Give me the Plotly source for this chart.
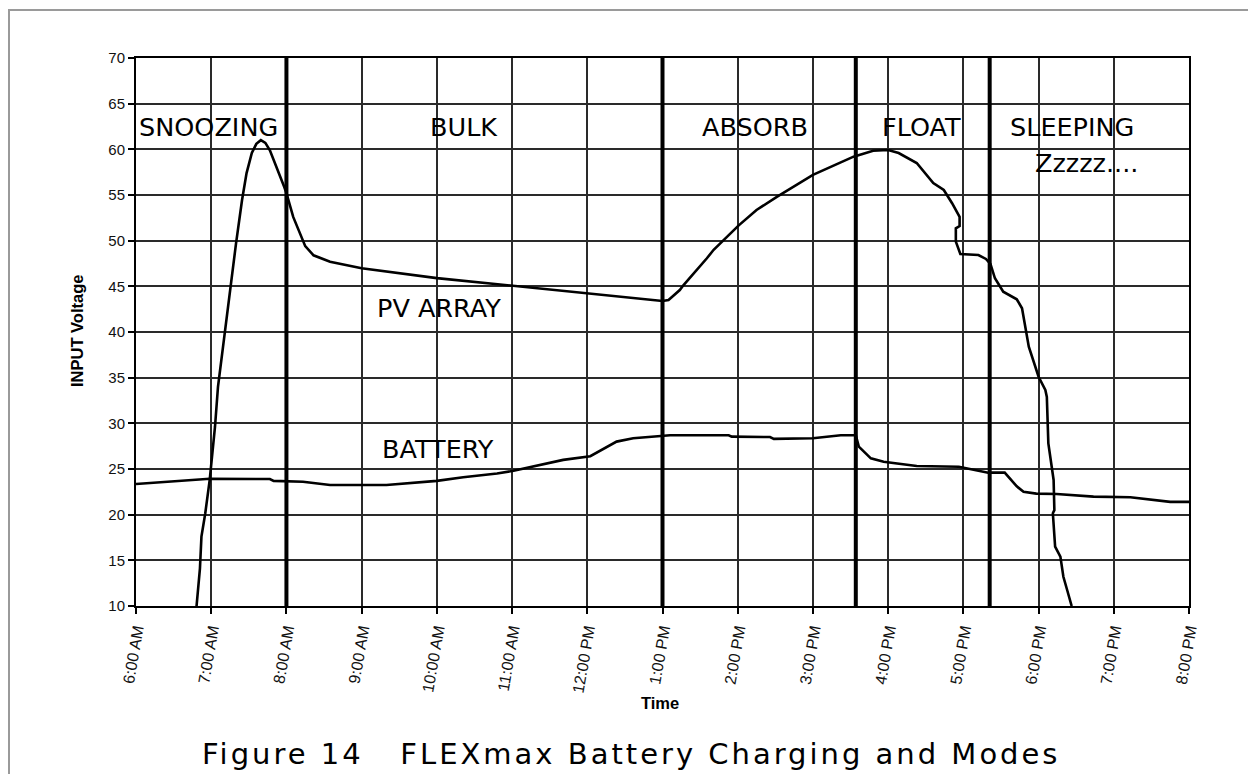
import plotly.graph_objects as go

# ---- data (hours since midnight, volts) ----
pv_hours = [6.805, 6.85, 6.87, 6.92, 6.98, 7.05, 7.09, 7.18, 7.25, 7.33, 7.41, 7.47, 7.54, 7.60,
            7.66, 7.72, 7.78, 7.87, 7.97, 8.00, 8.09, 8.25, 8.36, 8.58, 9.0, 10.0, 11.0, 12.0,
            13.0, 13.08, 13.23, 13.28, 13.50, 13.59, 13.68, 13.79, 13.90, 14.01, 14.25, 14.52,
            15.0, 15.54, 15.80, 16.0, 16.14, 16.38, 16.60, 16.74, 16.85, 16.95, 16.95, 16.90,
            16.90, 16.96, 17.20, 17.30, 17.36, 17.42, 17.53, 17.71, 17.78, 17.82, 17.87, 18.0,
            18.09, 18.11, 18.13, 18.20, 18.21, 18.19, 18.22, 18.29, 18.33, 18.38, 18.44]
pv_volts = [10.0, 14.1, 17.6, 20.1, 23.8, 29.6, 34.0, 39.8, 44.9, 49.7, 54.45, 57.4, 59.6, 60.6,
            61.0, 60.7, 59.9, 58.1, 55.9, 55.2, 52.6, 49.4, 48.4, 47.7, 46.97, 45.9, 45.07, 44.24,
            43.4, 43.5, 44.6, 45.14, 47.15, 48.07, 49.0, 49.9, 50.8, 51.65, 53.36, 54.8,
            57.2, 59.2, 59.85, 59.93, 59.6, 58.5, 56.3, 55.55, 54.1, 52.6, 51.6, 51.35,
            49.9, 48.54, 48.43, 48.0, 47.45, 45.88, 44.41, 43.58, 42.6, 40.6, 38.39, 35.1,
            33.65, 32.9, 27.8, 23.8, 20.5, 20.15, 16.5, 15.4, 13.2, 11.75, 10.0]

bat_hours = [6.0, 6.25, 6.56, 6.98, 7.78, 7.83, 8.22, 8.58, 9.33, 9.69, 10.0, 10.35, 10.80, 11.02,
             11.37, 11.68, 12.04, 12.21, 12.39, 12.61, 12.84, 13.10, 13.88, 13.92, 14.43, 14.48,
             15.0, 15.37, 15.57, 15.61, 15.77, 15.94, 16.12, 16.38, 16.94, 17.14, 17.33, 17.55,
             17.71, 17.80, 17.97, 18.24, 18.73, 19.22, 19.44, 19.75, 20.0]
bat_volts = [23.36, 23.5, 23.7, 23.93, 23.9, 23.7, 23.6, 23.25, 23.25, 23.5, 23.7, 24.1, 24.5, 24.8,
             25.4, 26.0, 26.4, 27.2, 28.0, 28.36, 28.55, 28.7, 28.7, 28.55, 28.5, 28.3,
             28.36, 28.7, 28.7, 27.45, 26.17, 25.8, 25.6, 25.33, 25.25, 24.9, 24.6, 24.6,
             23.1, 22.5, 22.3, 22.26, 21.97, 21.9, 21.68, 21.4, 21.4]

mode_boundaries = [8.0, 13.0, 15.57, 17.35]

mode_labels = ["SNOOZING", "BULK", "ABSORB", "FLOAT", "SLEEPING", "Zzzzz....", "PV ARRAY", "BATTERY"]
mode_label_x = [6.97, 10.36, 14.23, 16.45, 18.45, 18.64, 10.03, 10.02]
mode_label_y = [62.5, 62.5, 62.5, 62.5, 62.4, 58.5, 42.6, 27.15]

tick_hours = list(range(6, 21))
tick_labels = ["6:00 AM", "7:00 AM", "8:00 AM", "9:00 AM", "10:00 AM", "11:00 AM", "12:00 PM",
               "1:00 PM", "2:00 PM", "3:00 PM", "4:00 PM", "5:00 PM", "6:00 PM", "7:00 PM", "8:00 PM"]

y_title = "INPUT Voltage"
x_title = "Time"
caption = "Figure 14   FLEXmax Battery Charging and Modes"

# ---- geometry: screen pixels, page body has an 8px margin ----
OFF = 8
W, H = 1256 - OFF, 774 - OFF
L, R, T, B = 136 - OFF, 1189 - OFF, 58 - OFF, 606 - OFF
pw, ph = R - L, B - T


def px(sx):
    return (sx - OFF - L) / pw


def py(sy):
    return (B - (sy - OFF)) / ph


fig = go.Figure()
fig.add_trace(go.Scatter(x=pv_hours, y=pv_volts, mode="lines", name="PV ARRAY",
                         line=dict(color="black", width=2.6)))
fig.add_trace(go.Scatter(x=bat_hours, y=bat_volts, mode="lines", name="BATTERY",
                         line=dict(color="black", width=2.6)))

shapes = []
for b in mode_boundaries:
    shapes.append(dict(type="line", xref="x", yref="y", x0=b, x1=b, y0=10, y1=70,
                       line=dict(color="black", width=4), layer="above"))
# outer frame
shapes.append(dict(type="rect", xref="paper", yref="paper",
                   x0=px(OFF + 1), x1=px(1250), y0=py(800), y1=py(10),
                   line=dict(color="#9a9a9a", width=2), layer="below"))

annotations = []
label_font = dict(family="DejaVu Sans, sans-serif", size=25.5, color="black")
for t, x, y in zip(mode_labels, mode_label_x, mode_label_y):
    annotations.append(dict(text=t, x=x, y=y, xref="x", yref="y", showarrow=False,
                            font=label_font, xanchor="center", yanchor="middle"))

title_font = dict(family="Liberation Sans, Arial", size=16.5, color="black")
annotations.append(dict(text="<b>%s</b>" % y_title, xref="paper", yref="paper",
                        x=px(77), y=py(331), showarrow=False, textangle=-90,
                        font=title_font, xanchor="center", yanchor="middle"))
annotations.append(dict(text="<b>%s</b>" % x_title, xref="paper", yref="paper",
                        x=px(660), y=py(703), showarrow=False,
                        font=title_font, xanchor="center", yanchor="middle"))
annotations.append(dict(text='<span style="letter-spacing:3px">%s</span>' % caption,
                        xref="paper", yref="paper",
                        x=px(631), y=py(754), showarrow=False,
                        font=dict(family="DejaVu Sans, sans-serif", size=29, color="black"),
                        xanchor="center", yanchor="middle"))

axis_common = dict(showgrid=True, gridcolor="#2a2a2a", gridwidth=1.6, zeroline=False,
                   showline=True, linecolor="black", linewidth=2, mirror=True,
                   ticks="outside", ticklen=6, tickwidth=1.5, tickcolor="black")

fig.update_layout(
    width=W, height=H, autosize=False,
    margin=dict(l=L, r=W - R, t=T, b=H - B, pad=0),
    paper_bgcolor="white", plot_bgcolor="white",
    showlegend=False,
    xaxis=dict(range=[6, 20], tickmode="array", tickvals=tick_hours, ticktext=tick_labels,
               tickangle=-80, tickfont=dict(family="Liberation Sans, Arial", size=16, color="#111"),
               **axis_common),
    yaxis=dict(range=[10, 70], dtick=5, tick0=10,
               tickfont=dict(family="Liberation Sans, Arial", size=15, color="#111"),
               **axis_common),
    shapes=shapes,
    annotations=annotations,
)

fig.write_html("out.html")
